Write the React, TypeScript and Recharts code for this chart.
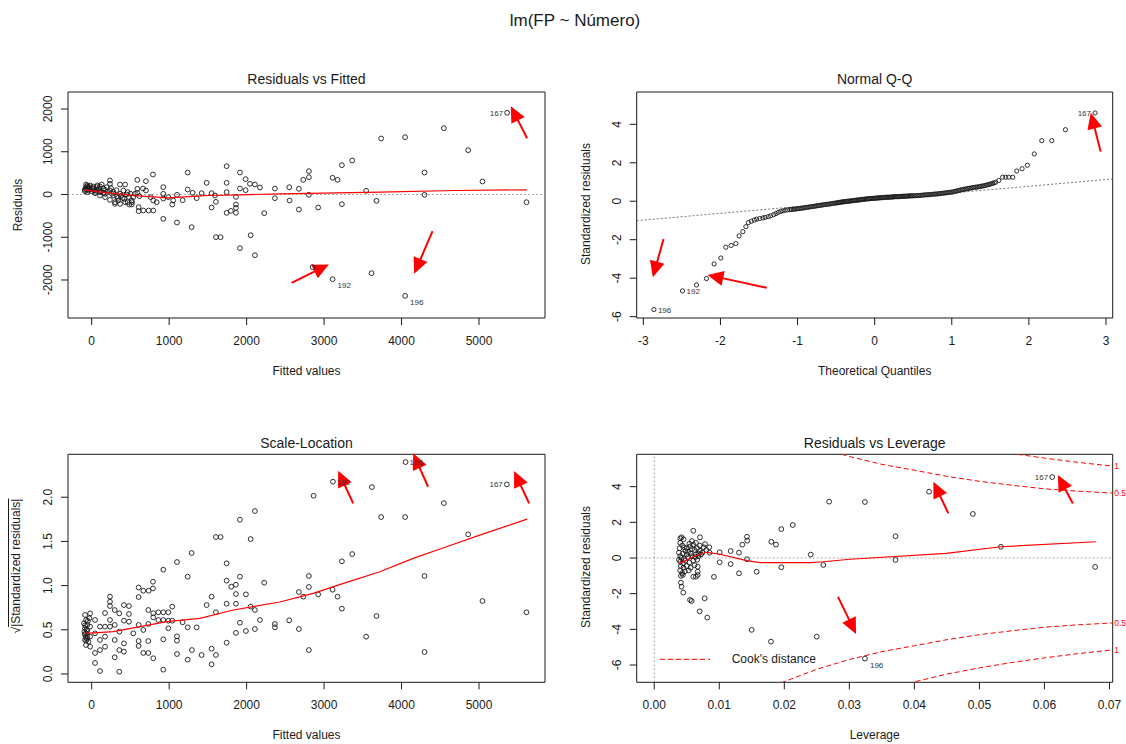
import React from "react";
import {
  ScatterChart,
  Scatter,
  XAxis,
  YAxis,
  ReferenceArea,
  ReferenceLine,
  ReferenceDot,
} from "recharts";

type Pt = [number, number];
type Seg = [Pt, Pt];
type Tag = [string, number, number];

const INK = "#1a1a1a";
const RED = "#ff0000";
const FONT = "'Liberation Sans', Arial, sans-serif";

// ---- Residuals vs Fitted: [fitted, residual]
const fittedResid: Pt[] = [
  [-86, 78], [-73, 133], [-64, 187], [-56, 211], [-73, 234], [-30, 172], [-56, 55], [-43, 94],
  [-21, 211], [0, 78], [22, 133], [22, 187], [43, 31], [65, 172], [65, 94], [73, 211],
  [107, 187], [107, 55], [107, -23], [129, 234], [151, 140], [172, 109], [172, 16], [172, -62],
  [194, 172], [236, 328], [236, 250], [236, 94], [236, -125], [280, -23], [301, -180], [301, -219],
  [323, -47], [344, -140], [366, 234], [366, 16], [366, -219], [399, -78], [409, 94], [431, 234],
  [431, -180], [464, 55], [464, -180], [485, -234], [516, -140], [516, -234], [537, -62], [559, 16],
  [589, 343], [589, 133], [589, 39], [606, -297], [606, -390], [615, -39], [662, 140], [666, -375],
  [700, 312], [700, 94], [735, -375], [761, -62], [791, 468], [795, -140], [795, -375], [839, -180],
  [924, 172], [924, 16], [924, -94], [924, -569], [989, -62], [1040, -234], [1052, -140], [1101, -8],
  [1101, -655], [1174, -133], [1239, 515], [1239, 117], [1290, -764], [1303, 39], [1355, -86], [1419, 31],
  [1484, 273], [1548, 31], [1548, -304], [1591, -23], [1604, -172], [1604, -998], [1664, -998], [1742, 663],
  [1742, 273], [1742, 55], [1742, -429], [1797, -383], [1862, -55], [1862, -234], [1862, -312], [1862, -429],
  [1914, 515], [1914, 140], [1914, -1256], [1987, 359], [1987, 101], [2043, 250], [2052, -952], [2107, 234],
  [2107, -1420], [2172, 164], [2227, -437], [2365, 140], [2365, -86],
  [-80, 150], [-60, 120], [-50, 170], [-90, 110], [-40, 140], [-20, 120], [10, 150], [30, 100],
  [50, 60], [90, 130], [120, 80], [150, 40], [200, 60], [250, 150], [260, 20], [280, 60],
  [320, 100], [340, -80], [380, -30], [420, -100], [450, 0], [480, -60], [500, 20], [520, -180],
  [2550, 171], [2555, -140], [2675, 133], [2675, -351], [2731, 344], [2804, 546], [2804, 405], [2804, -7],
  [2852, -1700], [2924, -304], [3110, 391], [3110, -1981], [3174, 344], [3230, 686], [3230, -227], [3363, 796],
  [3543, 87], [3613, -1841], [3677, -148], [3737, 1310], [4046, 1341], [4046, -2371], [4297, 515], [4297, -7],
  [4546, 1552], [4860, 1037], [5045, 304], [5363, 1912], [5613, -180],
];
const fittedResidSmooth: Pt[] = [
  [-90, 110], [100, 60], [339, 16], [600, -30], [985, -78], [1250, -50], [1501, -23],
  [1930, -7], [2430, 16], [3720, 54], [4685, 94], [5617, 110],
];
const fittedResidTags: Tag[] = [["167", 5363, 1912], ["192", 3110, -1981], ["196", 4046, -2371]];
const fittedResidArrows: Seg[] = [
  [[5621, 1317], [5410, 2066]],
  [[2581, -2066], [3062, -1638]],
  [[4400, -859], [4163, -1856]],
];

// ---- Normal Q-Q: [theoretical quantile, standardized residual]
const qqPoints: Pt[] = [
  [-2.863, -5.63], [-2.492, -4.66], [-2.311, -4.35], [-2.181, -4.02], [-2.082, -3.26], [-1.995, -2.95],
  [-1.93, -2.39], [-1.861, -2.3], [-1.8, -2.2], [-1.758, -1.8], [-1.71, -1.58], [-1.67, -1.32],
  [-1.637, -1.11], [-1.6, -1.04], [-1.56, -0.98], [-1.53, -0.93], [-1.49, -0.9], [-1.45, -0.87],
  [-1.42, -0.84], [-1.38, -0.8], [-1.35, -0.76], [-1.31, -0.7], [-1.28, -0.64], [-1.25, -0.58],
  [-1.22, -0.53], [-1.19, -0.5], [-1.16, -0.47], [-1.13, -0.45], [-1.1, -0.43], [-1.06, -0.42],
  [-1.02, -0.4], [-0.98, -0.38], [-0.94, -0.36], [-0.9, -0.33], [-0.86, -0.31], [-0.82, -0.28],
  [-0.78, -0.26], [-0.74, -0.23], [-0.7, -0.21], [-0.66, -0.18], [-0.62, -0.16], [-0.58, -0.14],
  [-0.54, -0.11], [-0.5, -0.09], [-0.47, -0.07], [-0.44, -0.05], [-0.41, -0.03], [-0.38, -0.02],
  [-0.35, 0.0], [-0.32, 0.01], [-0.29, 0.03], [-0.26, 0.04], [-0.23, 0.06], [-0.2, 0.07],
  [-0.17, 0.09], [-0.14, 0.1], [-0.11, 0.12], [-0.08, 0.13], [-0.05, 0.14], [-0.02, 0.15],
  [0.01, 0.16], [0.04, 0.17], [0.07, 0.18], [0.1, 0.19], [0.13, 0.2], [0.16, 0.21],
  [0.19, 0.21], [0.22, 0.22], [0.25, 0.23], [0.28, 0.24], [0.31, 0.24], [0.34, 0.25],
  [0.37, 0.26], [0.4, 0.26], [0.43, 0.27], [0.46, 0.28], [0.49, 0.28], [0.53, 0.29],
  [0.57, 0.3], [0.61, 0.31], [0.65, 0.33], [0.69, 0.34], [0.73, 0.35], [0.77, 0.37],
  [0.81, 0.38], [0.85, 0.4], [0.89, 0.42], [0.93, 0.44], [0.97, 0.46], [1.01, 0.48],
  [1.05, 0.52], [1.09, 0.56], [1.13, 0.6], [1.17, 0.63], [1.21, 0.66], [1.25, 0.69],
  [1.29, 0.72], [1.33, 0.74], [1.37, 0.77], [1.41, 0.8], [1.45, 0.84], [1.49, 0.88],
  [1.53, 0.93], [1.57, 0.99], [1.61, 1.08], [1.66, 1.25], [1.7, 1.25], [1.74, 1.25],
  [1.79, 1.25], [1.843, 1.57], [1.912, 1.69], [1.98, 1.87], [2.07, 2.46], [2.167, 3.15],
  [2.297, 3.15], [2.474, 3.72], [2.858, 4.59],
  // the packed middle of the distribution
  [-1.08, -0.425], [-1.04, -0.41], [-1.0, -0.39], [-0.96, -0.37], [-0.92, -0.345], [-0.88, -0.32],
  [-0.84, -0.295], [-0.8, -0.27], [-0.76, -0.245], [-0.72, -0.22], [-0.68, -0.195], [-0.64, -0.17],
  [-0.6, -0.15], [-0.56, -0.125], [-0.52, -0.1], [-0.485, -0.08], [-0.455, -0.06], [-0.425, -0.04],
  [-0.395, -0.025], [-0.365, -0.01], [-0.335, 0.005], [-0.305, 0.02], [-0.275, 0.035], [-0.245, 0.05],
  [-0.215, 0.065], [-0.185, 0.08], [-0.155, 0.095], [-0.125, 0.11], [-0.095, 0.125], [-0.065, 0.135],
  [-0.035, 0.145], [-0.005, 0.155], [0.025, 0.165], [0.055, 0.175], [0.085, 0.185], [0.115, 0.195],
  [0.145, 0.205], [0.175, 0.21], [0.205, 0.215], [0.235, 0.225], [0.265, 0.235], [0.295, 0.24],
  [0.325, 0.245], [0.355, 0.255], [0.385, 0.26], [0.415, 0.265], [0.445, 0.275], [0.475, 0.28],
  [0.51, 0.285], [0.55, 0.295], [0.59, 0.305], [0.63, 0.32], [0.67, 0.335], [0.71, 0.345],
  [0.75, 0.36], [0.79, 0.375], [0.83, 0.39], [0.87, 0.41], [0.91, 0.43], [0.95, 0.45],
  [0.99, 0.47], [1.03, 0.5], [1.07, 0.54], [1.11, 0.58], [1.15, 0.615], [1.19, 0.645],
  [1.23, 0.675], [1.27, 0.705], [1.31, 0.73], [1.35, 0.755], [1.39, 0.785], [1.43, 0.82],
  [1.47, 0.86], [1.51, 0.905], [1.55, 0.96],
];
const qqRefLine: Pt[] = [[-3.086, -1.01], [3.087, 1.16]];
const qqTags: Tag[] = [["196", -2.863, -5.63], ["192", -2.492, -4.66], ["167", 2.858, 4.59]];
const qqArrows: Seg[] = [
  [[-2.738, -1.96], [-2.876, -3.95]],
  [[-1.399, -4.5], [-2.168, -3.83]],
  [[2.931, 2.58], [2.802, 4.6]],
];

// ---- Scale-Location: [fitted, sqrt(|standardized residual|)]
const fittedRoot: Pt[] = [
  [2550, 0.607], [2675, 0.928], [2675, 0.509], [2731, 0.875], [2804, 1.109], [2804, 0.984], [2804, 0.271],
  [2865, 2.017], [2924, 0.901], [3110, 0.954], [3114, 2.176], [3174, 0.875], [3230, 1.275], [3230, 0.739],
  [3363, 1.357], [3543, 0.422], [3617, 2.115], [3677, 0.656], [3737, 1.776], [4046, 1.776], [4052, 2.398],
  [4297, 1.109], [4297, 0.249], [4546, 1.934], [4860, 1.58], [5045, 0.826], [5359, 2.146], [5613, 0.698],
  [2365, 0.566], [2365, 0.528],
  [2107, 1.844], [1914, 1.746], [1604, 1.55], [1664, 1.55], [2052, 1.527], [1290, 1.369], [1101, 1.267],
  [924, 1.18], [1742, 1.252], [1239, 1.101], [1914, 1.101], [1742, 1.056], [1862, 1.01], [1802, 0.988],
  [2227, 1.033], [791, 1.044], [791, 0.968], [606, 0.979], [666, 0.942], [735, 0.942], [606, 0.871],
  [1862, 0.905], [1991, 0.901], [1862, 0.795], [1742, 0.795], [1484, 0.78], [1548, 0.875], [1604, 0.698],
  [2052, 0.762], [2107, 0.724], [2172, 0.611], [1914, 0.58], [2107, 0.509], [1991, 0.487], [1862, 0.465],
  [1742, 0.354], [1548, 0.286], [1604, 0.215], [1548, 0.11], [1419, 0.215], [1239, 0.162], [1294, 0.271],
  [1355, 0.528], [1239, 0.528], [1174, 0.585], [1101, 0.426], [1101, 0.377], [1101, 0.226], [924, 0.049],
  [924, 0.392], [924, 0.611], [989, 0.603], [1040, 0.762], [989, 0.698], [924, 0.698], [860, 0.698],
  [795, 0.687], [795, 0.641], [860, 0.611], [1040, 0.603], [989, 0.517], [795, 0.178], [731, 0.724],
  [731, 0.566], [666, 0.498], [731, 0.373], [666, 0.238], [731, 0.238], [606, 0.555], [606, 0.373],
  [606, 0.317], [537, 0.46], [481, 0.679], [481, 0.592], [416, 0.78], [416, 0.603], [481, 0.769],
  [356, 0.686], [356, 0.479], [356, 0.271], [416, 0.347], [416, 0.253], [356, 0.026], [297, 0.724],
  [297, 0.555], [297, 0.385], [297, 0.189], [236, 0.875], [236, 0.818], [236, 0.769], [236, 0.611],
  [236, 0.536], [172, 0.69], [172, 0.536], [172, 0.423], [172, 0.309], [107, 0.034], [107, 0.271],
  [107, 0.385], [107, 0.536], [43, 0.46], [43, 0.238], [43, 0.125], [43, 0.611], [-21, 0.686],
  [-21, 0.536], [-21, 0.423], [-21, 0.309],
  [-86, 0.668], [-73, 0.611], [-56, 0.555], [-86, 0.517], [-73, 0.46], [-56, 0.423], [-86, 0.385],
  [-43, 0.366], [-73, 0.328], [-56, 0.49], [-30, 0.63], [-99, 0.573], [-90, 0.45], [-80, 0.42],
  [-65, 0.5], [-95, 0.48], [-60, 0.4], [-85, 0.55], [-70, 0.38], [-50, 0.6],
];
const fittedRootSmooth: Pt[] = [
  [-73, 0.46], [280, 0.479], [968, 0.592], [1397, 0.63], [1828, 0.724], [2430, 0.815],
  [2860, 0.913], [3290, 1.037], [3720, 1.157], [4150, 1.308], [4580, 1.44], [5010, 1.572], [5622, 1.753],
];
const fittedRootTags: Tag[] = [["167", 5359, 2.146], ["192", 3114, 2.176], ["196", 4052, 2.398]];
const fittedRootArrows: Seg[] = [
  [[3375, 1.931], [3182, 2.3]],
  [[4343, 2.119], [4150, 2.497]],
  [[5647, 1.931], [5453, 2.296]],
];

// ---- Residuals vs Leverage: [leverage, standardized residual]
const leverageResid: Pt[] = [
  [0.0612, 4.54], [0.04226, 3.72], [0.0324, 3.14], [0.049, 2.47], [0.0371, 1.22], [0.0533, 0.63],
  [0.0371, -0.11], [0.0678, -0.5], [0.0324, -5.64], [0.0269, 3.16], [0.0213, 1.85], [0.01954, 1.62],
  [0.018, 0.91], [0.01872, 0.75], [0.01426, 1.19], [0.0143, 0.97], [0.01354, 0.75], [0.01303, 0.3],
  [0.01175, 0.39], [0.01426, -0.07], [0.01175, -0.34], [0.01303, -0.86], [0.01575, -0.77], [0.01954, -0.52],
  [0.02406, 0.19], [0.026, -0.39], [0.01498, -4.03], [0.01795, -4.69], [0.02498, -4.41], [0.01006, 0.32],
  [0.01006, -0.24], [0.00918, -1.06], [0.00775, -2.26], [0.00815, -3.34], [0.00698, -2.99], [0.00575, -2.41],
  [0.0055, -2.35], [0.00446, -1.94], [0.0042, -1.61], [0.0041, -1.38], [0.006, 1.53], [0.00703, 1.16],
  [0.0042, 1.16], [0.0045, 1.05], [0.0078, 0.78], [0.00846, 0.6], [0.00668, -0.77], [0.0064, -1.05],
  [0.00668, -0.95], [0.006, -1.05], [0.00668, -0.49],
  [0.004, 1.1], [0.004, 0.85], [0.0043, 0.7], [0.0046, 0.6], [0.005, 0.55], [0.0055, 0.65],
  [0.006, 0.75], [0.0058, 0.5], [0.0048, 0.4], [0.0052, 0.35], [0.0062, 0.45], [0.0066, 0.55],
  [0.007, 0.4], [0.0074, 0.3], [0.0068, 0.25], [0.0064, 0.2], [0.0056, 0.25], [0.005, 0.2],
  [0.0044, 0.25], [0.004, 0.1], [0.0042, 0.0], [0.0046, -0.05], [0.0052, 0.05], [0.0058, 0.1],
  [0.0063, 0.05], [0.0068, 0.1], [0.0072, 0.2], [0.004, -0.2], [0.0044, -0.3], [0.0048, -0.15],
  [0.0054, -0.25], [0.006, -0.15], [0.0066, -0.1], [0.0041, -0.45], [0.0045, -0.55], [0.005, -0.45],
  [0.0056, -0.55], [0.0062, -0.4], [0.004, -0.7], [0.0043, -0.85], [0.0047, -0.75], [0.0053, -0.7],
  [0.0041, -1.0], [0.0044, -0.95], [0.0058, 0.95], [0.0064, 0.85], [0.0076, 0.6], [0.008, 0.45],
  [0.0085, 0.3], [0.007, 0.7], [0.0054, 0.8], [0.0038, 0.3], [0.0038, -0.1], [0.0039, 0.55],
];
const leverageResidSmooth: Pt[] = [
  [0.00395, -0.3], [0.006, 0.07], [0.00806, 0.32], [0.0101, 0.21], [0.0142, -0.15], [0.0163, -0.26],
  [0.024, -0.26], [0.026, -0.21], [0.0301, -0.07], [0.0449, 0.26], [0.0533, 0.63], [0.0679, 0.91],
];
const leverageTags: Tag[] = [["167", 0.0612, 4.54], ["196", 0.0324, -5.64]];
const leverageArrows: Seg[] = [
  [[0.04523, 2.5], [0.04292, 4.27]],
  [[0.06437, 3.06], [0.06206, 4.65]],
  [[0.02826, -2.18], [0.03103, -4.26]],
];
// Cook's distance contours, levels 0.5 and 1
const cookLevels = ["0.5", "1"];
const cookHalf: Pt[] = [
  [0.0195, 7.0], [0.025, 6.24], [0.03, 5.69], [0.035, 5.25], [0.04, 4.92], [0.045, 4.58],
  [0.05, 4.3], [0.055, 4.08], [0.06, 3.88], [0.065, 3.75], [0.0705, 3.64],
];
const cookOne: Pt[] = [
  [0.039, 7.03], [0.045, 6.51], [0.05, 6.16], [0.055, 5.86], [0.06, 5.6], [0.065, 5.37], [0.0705, 5.15],
];

const toXY = (pts: Pt[]) => pts.map(([x, y]) => ({ x, y }));
const mirror = (pts: Pt[]): Pt[] => pts.map(([x, y]) => [x, -y]);

const ring = (r: number) => (sp: any) => (
  <circle cx={sp.cx} cy={sp.cy} r={r} fill="none" stroke={INK} strokeWidth={0.9} />
);
const nothing = () => <g />;

const tagShape = (sides: Record<string, string>) => (sp: any) => {
  const side = sides[sp.payload.id] || "r";
  const dx = side === "l" ? -4 : side === "br" ? 5 : 4;
  const dy = side === "br" ? 9 : 3;
  return (
    <text x={sp.cx + dx} y={sp.cy + dy} textAnchor={side === "l" ? "end" : "start"}
      fontSize={8} fill="#333" fontFamily={FONT}>
      {sp.payload.id}
    </text>
  );
};

const arrowShape = (sp: any) => {
  const { x1, y1, x2, y2 } = sp;
  const dx = x2 - x1;
  const dy = y2 - y1;
  const len = Math.hypot(dx, dy) || 1;
  const ux = dx / len;
  const uy = dy / len;
  const L = 16;
  const W = 7.5;
  const bx = x2 - ux * L;
  const by = y2 - uy * L;
  return (
    <g>
      <line x1={x1} y1={y1} x2={bx + ux * 2} y2={by + uy * 2} stroke={RED} strokeWidth={2} />
      <polygon
        points={`${x2},${y2} ${bx - uy * W},${by + ux * W} ${bx + uy * W},${by - ux * W}`}
        fill={RED}
      />
    </g>
  );
};

const XTick = ({ x, y, payload, fmt }: any) => (
  <text x={x} y={y + 9} textAnchor="middle" fontSize={12} fill={INK} fontFamily={FONT}>
    {fmt ? fmt(payload.value) : String(payload.value)}
  </text>
);

const YTick = ({ x, y, payload, fmt }: any) => (
  <text x={x} y={y} transform={`rotate(-90 ${x} ${y})`} textAnchor="middle" fontSize={12}
    fill={INK} fontFamily={FONT}>
    {fmt ? fmt(payload.value) : String(payload.value)}
  </text>
);

interface PanelProps {
  box: [number, number, number, number];
  margin: { top: number; right: number; bottom: number; left: number };
  xDomain: [number, number];
  yDomain: [number, number];
  xTicks: number[];
  yTicks: number[];
  xFmt?: (v: number) => string;
  yFmt?: (v: number) => string;
  points: Pt[];
  r: number;
  smooth: Pt[];
  tags: Tag[];
  sides: Record<string, string>;
  arrows: Seg[];
  children?: React.ReactNode;
}

function Panel(p: PanelProps) {
  const [l, t, w, h] = p.box;
  return (
    <div style={{ position: "absolute", left: l, top: t }}>
      <ScatterChart width={w} height={h} margin={p.margin}>
        <XAxis type="number" dataKey="x" domain={p.xDomain} ticks={p.xTicks} interval={0}
          allowDataOverflow axisLine={false} tickLine={{ stroke: INK }} tickSize={7}
          tickMargin={11} height={40} tick={(tp: any) => <XTick {...tp} fmt={p.xFmt} />} />
        <YAxis type="number" dataKey="y" domain={p.yDomain} ticks={p.yTicks} interval={0}
          allowDataOverflow axisLine={false} tickLine={{ stroke: INK }} tickSize={7}
          tickMargin={9} width={60} tick={(tp: any) => <YTick {...tp} fmt={p.yFmt} />} />
        {p.children}
        <Scatter data={toXY(p.points)} shape={ring(p.r)} isAnimationActive={false} />
        <Scatter data={toXY(p.smooth)} shape={nothing} fill="none"
          line={{ stroke: RED, strokeWidth: 1.2 }} isAnimationActive={false} />
        <Scatter data={p.tags.map(([id, x, y]) => ({ id, x, y }))} shape={tagShape(p.sides)}
          isAnimationActive={false} />
        <ReferenceArea x1={p.xDomain[0]} x2={p.xDomain[1]} y1={p.yDomain[0]} y2={p.yDomain[1]}
          fill="none" stroke={INK} strokeWidth={1} ifOverflow="visible" />
        {p.arrows.map((s, i) => (
          <ReferenceLine key={i} ifOverflow="visible" shape={arrowShape}
            segment={[{ x: s[0][0], y: s[0][1] }, { x: s[1][0], y: s[1][1] }]} />
        ))}
      </ScatterChart>
    </div>
  );
}

const Title = ({ cx, cy, size, children }: any) => (
  <div style={{
    position: "absolute", left: cx, top: cy, transform: "translate(-50%, -50%)",
    whiteSpace: "nowrap", fontSize: size, color: INK, lineHeight: 1,
  }}>
    {children}
  </div>
);

const SideTitle = ({ cx, cy, children }: any) => (
  <div style={{
    position: "absolute", left: cx, top: cy, transform: "translate(-50%, -50%) rotate(-90deg)",
    whiteSpace: "nowrap", fontSize: 12, color: INK, lineHeight: 1,
  }}>
    {children}
  </div>
);

const cookLine = { stroke: RED, strokeWidth: 1, strokeDasharray: "5 3" };
// contour levels printed just right of the plot frame
const cookTag = (label: string) => (sp: any) => (
  <text x={sp.cx + 1.5} y={sp.cy + 3} fontSize={8.5} fill={RED} fontFamily={FONT}>{label}</text>
);

const topMargin = { top: 12, right: 18, bottom: 12, left: 8 };
const topMarginR = { top: 12, right: 13.3, bottom: 12, left: 13.7 };
const botMargin = { top: 14.3, right: 18, bottom: 7.7, left: 8 };
const botMarginR = { top: 14.3, right: 13.3, bottom: 7.7, left: 13.7 };

export default function App() {
  const half = cookHalf[cookHalf.length - 1][1];
  const one = cookOne[cookOne.length - 1][1];
  return (
    <div style={{
      position: "relative", width: 1126, height: 744, overflow: "hidden",
      background: "#fff", fontFamily: FONT,
    }}>
      <style>{"body{margin:0}"}</style>
      <Title cx={575} cy={20} size={17}>lm(FP ~ Número)</Title>

      <Title cx={306.5} cy={79} size={14}>Residuals vs Fitted</Title>
      <Title cx={874.7} cy={79} size={14}>Normal Q-Q</Title>
      <Title cx={306.5} cy={443} size={14}>Scale-Location</Title>
      <Title cx={874.7} cy={443} size={14}>Residuals vs Leverage</Title>

      <Title cx={306.5} cy={371} size={12}>Fitted values</Title>
      <Title cx={874.7} cy={371} size={12}>Theoretical Quantiles</Title>
      <Title cx={306.5} cy={735} size={12}>Fitted values</Title>
      <Title cx={874.7} cy={735} size={12}>Leverage</Title>

      <SideTitle cx={18} cy={205}>Residuals</SideTitle>
      <SideTitle cx={586} cy={204}>Standardized residuals</SideTitle>
      <SideTitle cx={16} cy={566}>
        √<span style={{ textDecoration: "overline" }}>|Standardized residuals|</span>
      </SideTitle>
      <SideTitle cx={586} cy={567}>Standardized residuals</SideTitle>

      <Panel box={[0, 80, 563, 290]} margin={topMargin} xDomain={[-306, 5852]}
        yDomain={[-2889, 2398]} xTicks={[0, 1000, 2000, 3000, 4000, 5000]}
        yTicks={[-2000, -1000, 0, 1000, 2000]} points={fittedResid} r={2.4}
        smooth={fittedResidSmooth} tags={fittedResidTags}
        sides={{ "167": "l", "192": "br", "196": "br" }} arrows={fittedResidArrows}>
        <ReferenceLine y={0} stroke="#aaa" strokeDasharray="2 2" />
      </Panel>

      <Panel box={[563, 80, 563, 290]} margin={topMarginR} xDomain={[-3.086, 3.087]}
        yDomain={[-6.07, 5.68]} xTicks={[-3, -2, -1, 0, 1, 2, 3]} yTicks={[-6, -4, -2, 0, 2, 4]}
        points={qqPoints} r={2.1} smooth={[]} tags={qqTags}
        sides={{ "167": "l", "192": "r", "196": "r" }} arrows={qqArrows}>
        <Scatter data={toXY(qqRefLine)} shape={nothing} fill="none"
          line={{ stroke: "#777", strokeWidth: 1, strokeDasharray: "2 2" }}
          isAnimationActive={false} />
      </Panel>

      <Panel box={[0, 440, 563, 290]} margin={botMargin} xDomain={[-306, 5852]}
        yDomain={[-0.094, 2.486]} xTicks={[0, 1000, 2000, 3000, 4000, 5000]}
        yTicks={[0, 0.5, 1, 1.5, 2]} yFmt={(v) => v.toFixed(1)} points={fittedRoot} r={2.4}
        smooth={fittedRootSmooth} tags={fittedRootTags}
        sides={{ "167": "l", "192": "r", "196": "r" }} arrows={fittedRootArrows} />

      <Panel box={[563, 440, 563, 290]} margin={botMarginR} xDomain={[-0.0027, 0.0705]}
        yDomain={[-6.97, 5.815]} xTicks={[0, 0.01, 0.02, 0.03, 0.04, 0.05, 0.06, 0.07]}
        yTicks={[-6, -4, -2, 0, 2, 4]} xFmt={(v) => v.toFixed(2)} points={leverageResid} r={2.4}
        smooth={leverageResidSmooth} tags={leverageTags}
        sides={{ "167": "l", "196": "br" }} arrows={leverageArrows}>
        <ReferenceLine y={0} stroke="#aaa" strokeDasharray="2 2" />
        <ReferenceLine x={0} stroke="#aaa" strokeDasharray="2 2" />
        {[cookHalf, mirror(cookHalf), cookOne, mirror(cookOne)].map((c, i) => (
          <Scatter key={`cook-${i}`} data={toXY(c)} shape={nothing} fill="none" line={cookLine}
            isAnimationActive={false} />
        ))}
        <ReferenceDot x={0.0705} y={half} r={0} ifOverflow="visible" shape={cookTag(cookLevels[0])} />
        <ReferenceDot x={0.0705} y={-half} r={0} ifOverflow="visible" shape={cookTag(cookLevels[0])} />
        <ReferenceDot x={0.0705} y={one} r={0} ifOverflow="visible" shape={cookTag(cookLevels[1])} />
        <ReferenceDot x={0.0705} y={-one} r={0} ifOverflow="visible" shape={cookTag(cookLevels[1])} />
      </Panel>

      {/* Cook's distance key, bottom-left of the leverage plot */}
      <svg style={{ position: "absolute", left: 655, top: 652 }} width={60} height={14}>
        <line x1={5} y1={7.3} x2={55} y2={7.3} {...cookLine} />
      </svg>
      <div style={{
        position: "absolute", left: 731.7, top: 659.3, transform: "translateY(-50%)",
        fontSize: 12, color: INK, lineHeight: 1, whiteSpace: "nowrap",
      }}>
        Cook's distance
      </div>
    </div>
  );
}
